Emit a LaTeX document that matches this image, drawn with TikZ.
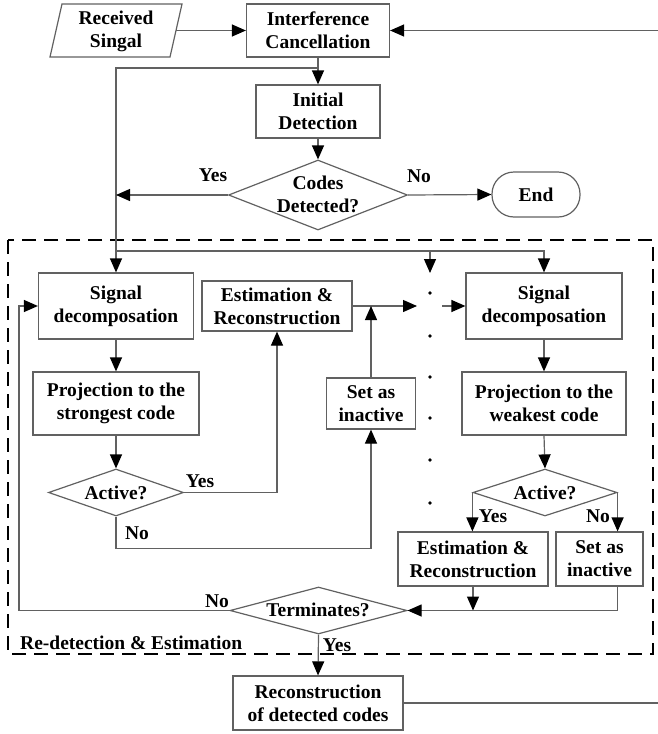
\documentclass[tikz,border=0pt]{standalone}
\usepackage{fontspec}
\setmainfont{Liberation Serif}
\usetikzlibrary{arrows.meta,shapes.geometric}
\definecolor{linec}{gray}{0.38}
\begin{document}
\begin{tikzpicture}[x=1pt,y=-1pt,
  every node/.style={font=\fontsize{19.5}{23}\selectfont\bfseries, text=black},
  box/.style={draw=linec, line width=1.2pt, rectangle, inner sep=0pt, align=center},
  dia/.style={draw=linec, line width=1.2pt, diamond, inner sep=0pt},
  conn/.style={draw=linec, line width=1.2pt},
  arr/.style={conn, -{Triangle[length=14pt,width=12pt,color=black]}},
  lbl/.style={inner sep=0pt}
]
\useasboundingbox (0,0) rectangle (658,734);

% top part
\draw[conn] (62,4) -- (182,4) -- (170,57) -- (50,57) -- cycle;
\node[align=center] (rs) at (116,31) {Received\\Singal};
\coordinate (rsr) at (176,30.5);
\node[box, minimum width=143pt, minimum height=53pt] (ic) at (318,30.5) {Interference\\Cancellation};
\coordinate (ext1) at (658,30.5);
\node[box, minimum width=124pt, minimum height=53pt] (id) at (318,111.5) {Initial\\Detection};
\node[dia, minimum width=179pt, minimum height=70pt] (cd) at (318,195) {};
\node[align=center, inner sep=0pt] (cdt) at (318,194) {Codes\\Detected?};
\node[box, rounded corners=22pt, minimum width=88pt, minimum height=45pt] (end) at (536,194.5) {End};

% dashed frame
\draw[black, line width=2pt, dash pattern=on 14pt off 8pt] (8,240) rectangle (653,654);
\node[lbl, anchor=west] (rde) at (20,643) {Re-detection \& Estimation};

% left column
\node[box, minimum width=155pt, minimum height=66pt] (sd1) at (116,306) {Signal\\decomposation};
\node[box, minimum width=150pt, minimum height=50pt] (er1) at (277,306) {Estimation \&\\Reconstruction};
\node[box, minimum width=166pt, minimum height=63pt] (ps) at (116,403.5) {Projection to the\\strongest code};
\node[box, minimum width=89pt, minimum height=51pt] (sa1) at (371,403.5) {Set as\\inactive};
\node[dia, minimum width=135pt, minimum height=47pt] (a1) at (116,492.5) {};
\node[inner sep=0pt] (a1t) at (116,493) {Active?};

% right column
\node[box, minimum width=156pt, minimum height=66pt] (sd2) at (544,306) {Signal\\decomposation};
\node[box, minimum width=164pt, minimum height=63pt] (pw) at (544,403.5) {Projection to the\\weakest code};
\node[dia, minimum width=144pt, minimum height=47pt] (a2) at (545,492.5) {};
\node[inner sep=0pt] (a2t) at (545,493) {Active?};
\node[box, minimum width=150pt, minimum height=54pt] (er2) at (473,559) {Estimation \&\\Reconstruction};
\node[box, minimum width=87pt, minimum height=54pt] (sa2) at (599.5,559) {Set as\\inactive};

\node[dia, minimum width=177pt, minimum height=47pt] (td) at (318.5,610.5) {};
\node[inner sep=0pt] (tdt) at (318,610) {Terminates?};
\node[box, minimum width=170pt, minimum height=54pt] (rc) at (318,703) {Reconstruction\\of detected codes};
\coordinate (ext2) at (658,703);

% dots
\foreach \yy in {293,336,377,418,460,503} \fill (430,\yy) circle (1.8pt);

% connectors top
\draw[arr] (rsr) -- (ic.west);
\draw[arr] (ext1) -- (ic.east);
\draw[arr] (ic.south) -- (id.north);
\coordinate (br1) at (318,68);
\draw[arr] (br1) -| (sd1.north);
\draw[arr] (id.south) -- (cd.north);
\draw[arr] (cd.west) -- (cd.west -| sd1.north);
\draw[arr] (cd.east) -- (end.west);

% connectors inside frame
\coordinate (tl) at (116,251);
\draw[arr] (tl) -| (sd2.north);
\coordinate (dtop) at (430,251);
\coordinate (dend) at (430,273);
\draw[arr] (dtop) -- (dend);
\coordinate (dl) at (417,306);
\draw[arr] (er1.east) -- (dl);
\coordinate (dr) at (442,306);
\draw[arr] (dr) -- (sd2.west);
\draw[arr] (sa1.north) -- (sa1.north |- er1.east);
\draw[arr] (sd1.south) -- (ps.north);
\draw[arr] (ps.south) -- (a1.north);
\draw[arr] (a1.east) -| (er1.south);
\draw[arr] (a1.south) -- ++(0,32) -| (sa1.south);
\draw[arr] (sd2.south) -- (pw.north);
\draw[arr] (pw.south) -- (a2.north);
\draw[arr] (a2.west) -- (a2.west |- er2.north);
\draw[arr] (a2.east) -- (a2.east |- sa2.north);
\draw[arr] (er2.south) -- (er2.south |- td.east);
\draw[arr] (sa2.south -| a2.east) -- (a2.east |- td.east) -- (td.east);
\coordinate (lf) at (19,610.5);
\draw[arr] (td.west) -- (lf) |- (sd1.west);
\draw[arr] (td.south) -- (rc.north);
\draw[conn] (rc.east) -- (ext2);

% labels
\node[lbl] (y1) at (213,175) {Yes};
\node[lbl] (n1) at (419,176) {No};
\node[lbl] (y2) at (200,481) {Yes};
\node[lbl] (n2) at (137,533) {No};
\node[lbl] (y3) at (493,516) {Yes};
\node[lbl] (n3) at (598,516) {No};
\node[lbl] (n4) at (217,601) {No};
\node[lbl] (y4) at (337,645) {Yes};
\end{tikzpicture}
\end{document}
